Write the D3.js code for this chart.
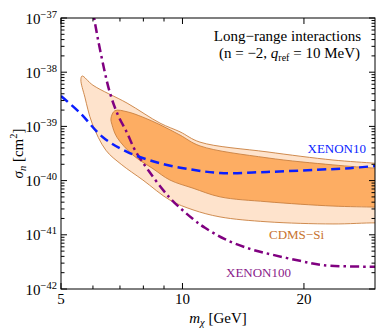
<!DOCTYPE html>
<html>
<head>
<meta charset="utf-8">
<script src="https://cdn.jsdelivr.net/npm/d3@7"></script>
<style>
  body { margin: 0; background: #fff; }
  svg { display: block; font-family: "Liberation Serif", "Times New Roman", serif; }
</style>
</head>
<body>
<div id="chart"></div>
<script>
// axis ticks
var massMajor = [5, 10, 20];
var massMinor = [6, 7, 8, 9];
var sigmaDecades = [-42, -41, -40, -39, -38, -37];

// XENON100 limit (dash-dot), log10 sigma
var xenon100Mass = [5.97, 6.04, 6.25, 6.61, 6.92, 7.29, 7.63, 8.21, 9.31, 10.62, 11.37, 12.74, 14.70, 16.76, 19.55, 22.29, 30];
var xenon100Log = [-36.76, -37.00, -37.59, -38.38, -38.79, -39.12, -39.44, -39.80, -40.32, -40.71, -40.87, -41.08, -41.26, -41.37, -41.48, -41.56, -41.59];

// XENON10 limit (dashed)
var xenon10Mass = [5, 5.57, 6.35, 7.29, 8.80, 10.62, 12.39, 16.20, 21.53, 26.0, 30];
var xenon10Log = [-38.44, -38.75, -39.20, -39.47, -39.68, -39.80, -39.86, -39.84, -39.80, -39.77, -39.73];

// CDMS-Si regions, closed contours (outer = light, inner = dark)
var outerMass = [5.64, 6.00, 7.29, 8.80, 9.86, 11.05, 16.2, 23.6, 30, 32, 32, 30, 23.6, 16.2, 12.39, 10.62, 9.31, 7.98, 7.05, 6.46, 5.97, 5.73, 5.60];
var outerLog = [-38.07, -38.24, -38.57, -38.94, -39.10, -39.29, -39.47, -39.62, -39.68, -39.70, -40.79, -40.78, -40.80, -40.76, -40.67, -40.54, -40.36, -39.99, -39.70, -39.44, -38.94, -38.46, -38.14];
var innerMass = [6.65, 6.80, 7.29, 7.98, 8.80, 9.86, 11.05, 16.2, 23.6, 30, 32, 32, 30, 23.6, 16.2, 12.39, 10.62, 9.31, 8.45, 7.54, 6.88, 6.69];
var innerLog = [-38.85, -38.71, -38.73, -38.83, -38.97, -39.16, -39.36, -39.58, -39.71, -39.77, -39.78, -40.50, -40.49, -40.47, -40.39, -40.30, -40.14, -39.99, -39.78, -39.53, -39.20, -38.97];

(function () {
  var width = 379, height = 331;
  var pl = 61, pr = 375, pt = 18, pb = 289;

  var svg = d3.select('#chart').append('svg')
    .attr('width', width)
    .attr('height', height);

  var x = d3.scaleLog().domain([5, 30]).range([pl, pr]);
  var y = d3.scaleLog().domain([1e-42, 1e-37]).range([pb, pt]);

  function pts(ms, ls) {
    return ms.map(function (m, i) { return [m, Math.pow(10, ls[i])]; });
  }

  svg.append('clipPath').attr('id', 'plot-clip')
    .append('rect').attr('x', pl).attr('y', pt).attr('width', pr - pl).attr('height', pb - pt);

  var g = svg.append('g').attr('clip-path', 'url(#plot-clip)');

  var closedLine = d3.line()
    .x(function (d) { return x(d[0]); })
    .y(function (d) { return y(d[1]); })
    .curve(d3.curveCatmullRomClosed.alpha(0.5));

  var openLine = d3.line()
    .x(function (d) { return x(d[0]); })
    .y(function (d) { return y(d[1]); })
    .curve(d3.curveCatmullRom.alpha(0.5));

  g.append('path')
    .attr('d', closedLine(pts(outerMass, outerLog)))
    .attr('fill', '#fee3cc')
    .attr('stroke', '#c98040')
    .attr('stroke-width', 0.9);

  g.append('path')
    .attr('d', closedLine(pts(innerMass, innerLog)))
    .attr('fill', '#fdad63')
    .attr('stroke', '#c98040')
    .attr('stroke-width', 0.9);

  g.append('path')
    .attr('d', openLine(pts(xenon100Mass, xenon100Log)))
    .attr('fill', 'none')
    .attr('stroke', '#800080')
    .attr('stroke-width', 2.5)
    .attr('stroke-dasharray', '9,4,2.5,4');

  g.append('path')
    .attr('d', openLine(pts(xenon10Mass, xenon10Log)))
    .attr('fill', 'none')
    .attr('stroke', '#0a1eff')
    .attr('stroke-width', 2.5)
    .attr('stroke-dasharray', '9,5');

  // frame and ticks
  var axisG = svg.append('g').attr('stroke', '#000').attr('stroke-width', 1);
  axisG.append('rect')
    .attr('x', pl).attr('y', pt).attr('width', pr - pl).attr('height', pb - pt)
    .attr('fill', 'none');

  var xTicks = massMajor.map(function (v) { return { v: v, len: 6 }; })
    .concat(massMinor.map(function (v) { return { v: v, len: 3.5 }; }));
  xTicks.forEach(function (t) {
    var px = x(t.v);
    axisG.append('line').attr('x1', px).attr('x2', px).attr('y1', pb).attr('y2', pb - t.len);
    axisG.append('line').attr('x1', px).attr('x2', px).attr('y1', pt).attr('y2', pt + t.len);
  });

  var yTicks = [];
  sigmaDecades.forEach(function (e) {
    yTicks.push({ v: Math.pow(10, e), len: 6 });
    if (e < -37) {
      for (var k = 2; k <= 9; k++) yTicks.push({ v: k * Math.pow(10, e), len: 3.5 });
    }
  });
  yTicks.forEach(function (t) {
    var py = y(t.v);
    axisG.append('line').attr('x1', pl).attr('x2', pl + t.len).attr('y1', py).attr('y2', py);
    axisG.append('line').attr('x1', pr).attr('x2', pr - t.len).attr('y1', py).attr('y2', py);
  });

  // tick labels
  massMajor.forEach(function (v) {
    svg.append('text')
      .attr('x', x(v)).attr('y', pb + 15)
      .attr('text-anchor', 'middle')
      .attr('font-size', 15)
      .text(v);
  });

  sigmaDecades.forEach(function (e) {
    var t = svg.append('text')
      .attr('x', 57).attr('y', y(Math.pow(10, e)) + 5.5)
      .attr('text-anchor', 'end')
      .attr('font-size', 15);
    t.append('tspan').text('10');
    t.append('tspan').attr('font-size', 10.5).attr('dy', -6).text('\u2212' + (-e));
  });

  // axis titles
  var xt = svg.append('text')
    .attr('x', (pl + pr) / 2).attr('y', 323)
    .attr('text-anchor', 'middle')
    .attr('font-size', 15);
  xt.append('tspan').attr('font-style', 'italic').text('m');
  xt.append('tspan').attr('font-style', 'italic').attr('font-size', 10.5).attr('dy', 3).text('\u03c7');
  xt.append('tspan').attr('dy', -3).text(' [GeV]');

  var yt = svg.append('text')
    .attr('transform', 'translate(23,' + ((pt + pb) / 2) + ') rotate(-90)')
    .attr('text-anchor', 'middle')
    .attr('font-size', 15);
  yt.append('tspan').attr('font-style', 'italic').text('\u03c3');
  yt.append('tspan').attr('font-style', 'italic').attr('font-size', 10.5).attr('dy', 3).text('n');
  yt.append('tspan').attr('dy', -3).text(' [cm');
  yt.append('tspan').attr('font-size', 10.5).attr('dy', -6).text('2');
  yt.append('tspan').attr('dy', 6).text(']');

  // annotation
  svg.append('text')
    .attr('x', 361).attr('y', 41)
    .attr('text-anchor', 'end')
    .attr('font-size', 15)
    .text('Long\u2212range interactions');

  var l2 = svg.append('text')
    .attr('x', 360).attr('y', 58)
    .attr('text-anchor', 'end')
    .attr('font-size', 15);
  l2.append('tspan').text('(n = \u22122, ');
  l2.append('tspan').attr('font-style', 'italic').text('q');
  l2.append('tspan').attr('font-size', 10).attr('dy', 3).text('ref');
  l2.append('tspan').attr('dy', -3).text(' = 10 MeV)');

  // series labels
  svg.append('text')
    .attr('x', 366).attr('y', 153)
    .attr('text-anchor', 'end')
    .attr('font-size', 13)
    .attr('fill', '#0a1eff')
    .text('XENON10');

  svg.append('text')
    .attr('x', 269).attr('y', 239)
    .attr('font-size', 13)
    .attr('fill', '#c8732f')
    .text('CDMS\u2212Si');

  svg.append('text')
    .attr('x', 226).attr('y', 277)
    .attr('font-size', 13)
    .attr('fill', '#8a1a8a')
    .text('XENON100');
})();
</script>
</body>
</html>
